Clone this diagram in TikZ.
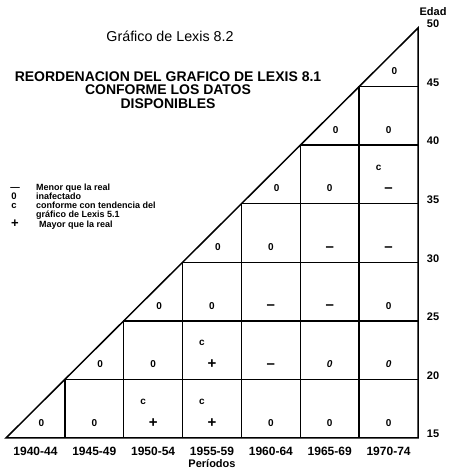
\documentclass[tikz,border=0pt]{standalone}
\usepackage{fontspec}
\setmainfont{Liberation Sans}
\usetikzlibrary{positioning}

\begin{document}
\begin{tikzpicture}[x=1pt,y=1pt,
	celda/.style={font=\bfseries\fontsize{10}{10}\selectfont},
	signo/.style={font=\bfseries\fontsize{15}{15}\selectfont},
	eje/.style={font=\bfseries\fontsize{11}{11}\selectfont},
	leyenda/.style={font=\bfseries\fontsize{9}{9}\selectfont,anchor=mid west,inner sep=0pt},
	simbolo/.style={font=\bfseries\fontsize{9.5}{9.5}\selectfont,anchor=mid,inner sep=0pt},
	linea/.style={line width=1.5pt,line join=miter}]
		\useasboundingbox (0,0) rectangle (448,476);
		\pgfmathsetmacro\W{58.86}
		\pgfmathsetmacro\H{58.57}
		% titulos
		\node[font=\fontsize{14.3}{14.3}\selectfont] (titulo) at (170,440) {Gráfico de Lexis 8.2};
		\node[font=\bfseries\fontsize{14}{13.5}\selectfont,align=center,inner sep=0pt] (subtitulo) at (168,386) {REORDENACION DEL GRAFICO DE LEXIS 8.1\\CONFORME LOS DATOS\\DISPONIBLES};
		% leyenda
		\node[simbolo] (s1) at (15,288.5) {—};
		\node[simbolo] (s2) at (14,279.3) {0};
		\node[simbolo] (s3) at (14,270) {c};
		\node[simbolo,font=\bfseries\fontsize{13}{13}\selectfont] (s5) at (15,251.5) {+};
		\node[leyenda] (l1) at (36,288.5) {Menor que la real};
		\node[leyenda] (l2) at (36,279.3) {inafectado};
		\node[leyenda] (l3) at (36,270) {conforme con tendencia del};
		\node[leyenda] (l4) at (36,260.8) {gráfico de Lexis 5.1};
		\node[leyenda] (l5) at (39,251.5) {Mayor que la real};
		\begin{scope}[shift={(6,38)},x=\W pt,y=\H pt]
		\draw[linea] (0,0) -- (7,0) -- (7,7) -- cycle;
		\foreach \k in {1,...,6}
			\draw[linea] (\k,0) -- (\k,\k) -- (7,\k);
		% casillas
		\foreach \c/\r in {1/1,2/2,3/3,4/4,5/5,6/6,7/7}
			\node[celda] (t\c\r) at (\c-0.4,\r-0.74) {0};
		\foreach \c/\r in {2/1,5/1,6/1,7/1,3/2,4/3,7/3,5/4,6/5,7/6}
			\node[celda] (o\c\r) at (\c-0.5,\r-0.74) {0};
		\foreach \c/\r in {6/2,7/2}
			\node[celda,font=\bfseries\itshape\fontsize{10}{10}\selectfont] (o\c\r) at (\c-0.5,\r-0.74) {0};
		\foreach \c/\r in {5/2,5/3,6/3,6/4,7/4,7/5}
			\node[signo] (m\c\r) at (\c-0.5,\r-0.77) {–};
		\foreach \c/\r in {3/1,4/1,4/2}
			\node[signo] (p\c\r) at (\c-0.5,\r-0.74) {+};
		\foreach \c/\r in {3/1,4/1,4/2,7/5}
			\node[celda] (c\c\r) at (\c-0.67,\r-0.38) {c};
		% ejes
		\foreach \j/\e in {0/15,1/20,2/25,3/30,4/35,5/40,6/45,7/50}
			\node[eje] (e\e) at ([xshift=15pt,yshift=4pt]7,\j) {\e};
		\node[eje,above=-3pt of e50] (edad) {Edad};
		\foreach \c/\a in {1/1940-44,2/1945-49,3/1950-54,4/1955-59,5/1960-64,6/1965-69,7/1970-74}
			\node[eje,font=\bfseries\fontsize{12}{12}\selectfont] (a\c) at ([yshift=-13pt]\c-0.5,0) {\a};
		\node[eje] (periodos) at ([yshift=-26pt]3.5,0) {Períodos};
		\end{scope}
\end{tikzpicture}
\end{document}
